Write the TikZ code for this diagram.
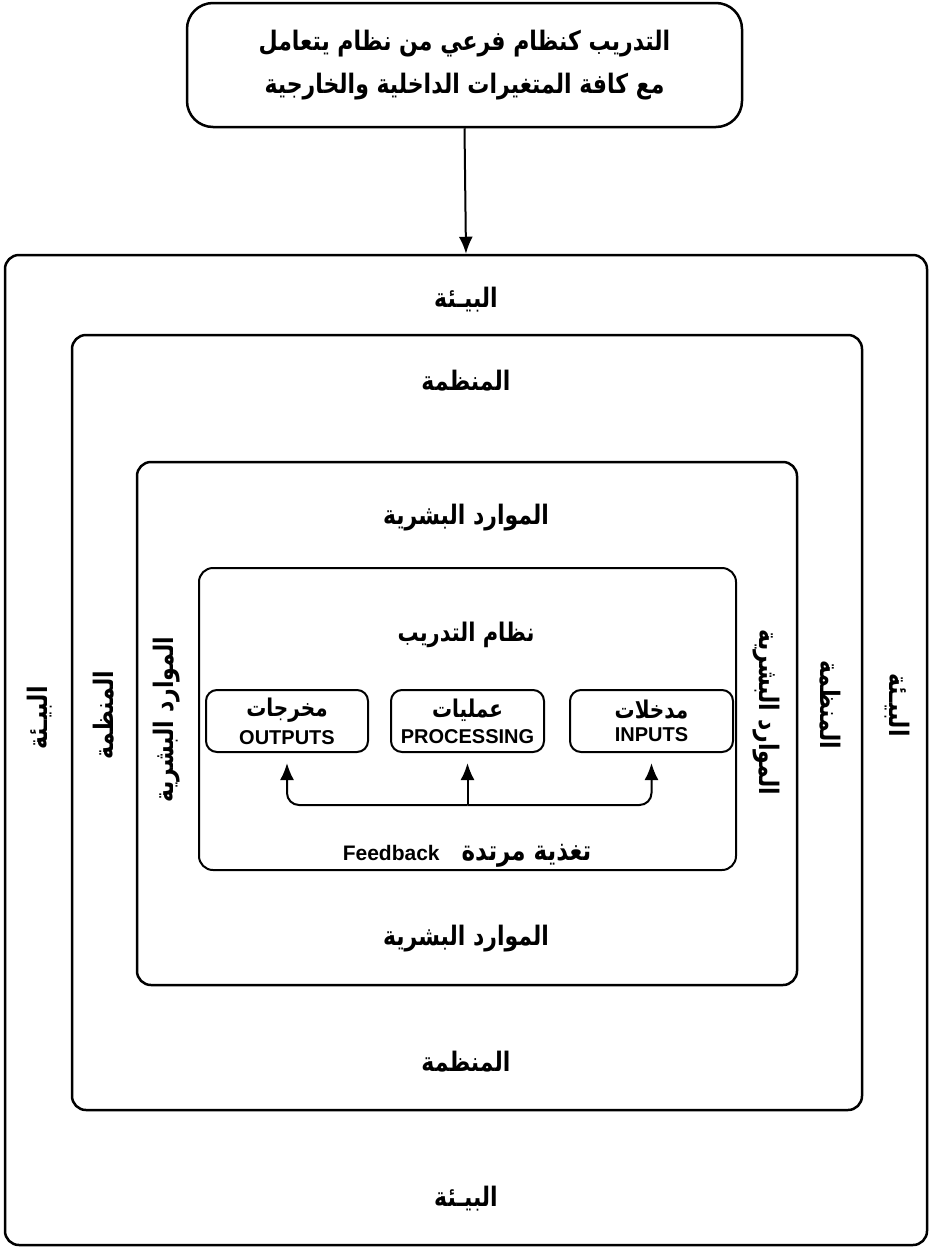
\documentclass[tikz,border=0pt]{standalone}
\usepackage{fontspec}
\usepackage{graphicx}
\setmainfont{Liberation Sans}
\newfontfamily\arabicfont[Script=Arabic]{DejaVu Sans}
\TeXXeTstate=1
\newcommand{\artxt}[1]{\scalebox{1}[1.22]{\beginR #1\endR}}
\usetikzlibrary{arrows.meta}
\begin{document}
\begin{tikzpicture}[x=1pt,y=-1pt,
  frame/.style={draw,line width=2.5pt,rounded corners=14pt,inner sep=0pt},
  smallbox/.style={draw,line width=2pt,rounded corners=11pt,minimum height=62pt,align=center,inner sep=0pt},
  ar/.style={font=\arabicfont\bfseries\fontsize{22}{26}\selectfont},
  arrow/.style={line width=2pt,-{Latex[length=17pt,width=14pt]}}]
\useasboundingbox (0,0) rectangle (931,1251);
% top box
\node[frame,rounded corners=26pt,minimum width=555pt,minimum height=124pt,align=center,
  font=\arabicfont\bfseries\fontsize{22}{43}\selectfont] (top) at (464.5,65)
  {\artxt{التدريب كنظام فرعي من نظام يتعامل}\\\artxt{مع كافة المتغيرات الداخلية والخارجية}};
% nested frames
\node[frame,minimum width=922pt,minimum height=990pt] (env) at (466,750) {};
\node[frame,minimum width=790pt,minimum height=775pt] (org) at (467,722.5) {};
\node[frame,minimum width=660pt,minimum height=523pt] (hr) at (467,723.5) {};
\node[frame,line width=2pt,minimum width=537pt,minimum height=302pt] (sys) at (467.5,719) {};
\draw[arrow] (top.south) -- (env.north);
% labels
\node[ar] (envT) at (466,300) {\artxt{البيـئة}};
\node[ar] (envB) at (466,1199) {\artxt{البيـئة}};
\node[ar,rotate=90] (envL) at (40,718) {\artxt{البيـئة}};
\node[ar,rotate=-90] (envR) at (897,705) {\artxt{البيـئة}};
\node[ar] (orgT) at (466,381) {\artxt{المنظمة}};
\node[ar] (orgB) at (466,1062) {\artxt{المنظمة}};
\node[ar,rotate=90] (orgL) at (104,715) {\artxt{المنظمة}};
\node[ar,rotate=-90] (orgR) at (830,705) {\artxt{المنظمة}};
\node[ar] (hrT) at (466,518) {\artxt{الموارد البشرية}};
\node[ar] (hrB) at (466,939) {\artxt{الموارد البشرية}};
\node[ar,rotate=90] (hrL) at (167,720) {\artxt{الموارد البشرية}};
\node[ar,rotate=-90] (hrR) at (766,712) {\artxt{الموارد البشرية}};
\node[ar,font=\arabicfont\bfseries\fontsize{21}{24}\selectfont] (sysT) at (466,635) {\artxt{نظام التدريب}};
% small boxes
\node[smallbox,minimum width=162pt] (out) at (287,721)
  {{\arabicfont\bfseries\fontsize{20}{22}\selectfont\artxt{مخرجات}}\\[7pt]{\bfseries\fontsize{20}{22}\selectfont OUTPUTS}};
\node[smallbox,minimum width=153pt] (proc) at (467.5,721)
  {{\arabicfont\bfseries\fontsize{20}{22}\selectfont\artxt{عمليات}}\\[7pt]{\bfseries\fontsize{20}{22}\selectfont PROCESSING}};
\node[smallbox,minimum width=163pt] (in) at (651.5,721)
  {{\arabicfont\bfseries\fontsize{20}{22}\selectfont\artxt{مدخلات}}\\[7pt]{\bfseries\fontsize{20}{22}\selectfont INPUTS}};
% feedback
\coordinate (fb) at (467.5,805);
\draw[arrow,shorten >=10pt] (fb) -- (proc.south);
\draw[arrow,shorten >=10pt,rounded corners=12pt] (fb) -| (out.south);
\draw[arrow,shorten >=10pt,rounded corners=12pt] (fb) -| (in.south);
\node (fbT) at (467,856) {{\bfseries\fontsize{21}{24}\selectfont Feedback}\hspace{22pt}{\arabicfont\bfseries\fontsize{23}{26}\selectfont\artxt{تغذية مرتدة}}};
\end{tikzpicture}
\end{document}
